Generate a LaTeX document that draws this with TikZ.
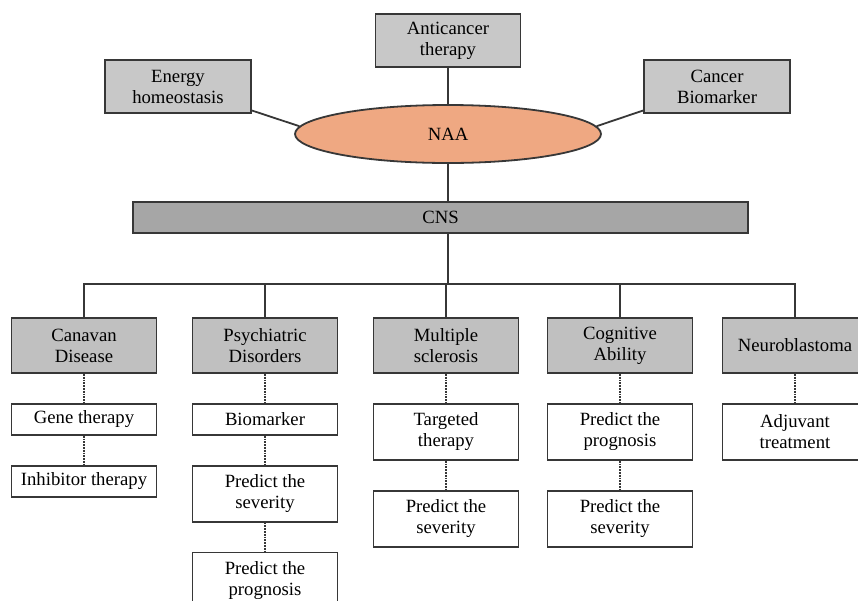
\documentclass[tikz,border=0pt]{standalone}
\usepackage{fontspec}
\setmainfont{Liberation Serif}
\usepackage{xcolor}
\usepackage{tikz}
\usetikzlibrary{positioning, shapes.geometric}

\definecolor{edgegray}{RGB}{55,55,55}
\definecolor{topgray}{RGB}{200,200,200}
\definecolor{disgray}{RGB}{192,192,192}
\definecolor{cnsgray}{RGB}{166,166,166}
\definecolor{naaorange}{RGB}{239,168,130}

\tikzset{
    node distance=29pt,                         % gap between a box and the one below it
    every node/.style={font=\fontsize{18.7}{21}\selectfont, align=center, inner sep=0pt},
    box/.style={draw=edgegray, line width=1.8pt, minimum width=145pt},
    topbox/.style={box, fill=topgray, minimum height=53pt},   % boxes round NAA
    disease/.style={box, fill=disgray, minimum height=55pt},  % second row
    leaf/.style={box, fill=white, minimum height=31pt},       % one line
    leaftwo/.style={box, fill=white, minimum height=56pt},    % two lines
    link/.style={draw=edgegray, line width=1.8pt},
    dots/.style={draw=edgegray, line width=1.8pt, densely dotted},
}

\begin{document}
\begin{tikzpicture}[x=1pt, y=1pt]
\useasboundingbox (0,0) rectangle (858,-600);

\node[topbox] (anti) at (448,-40.5) {Anticancer\\therapy};
\node[topbox, minimum width=146pt] (energy) at (178,-86.5) {Energy\\homeostasis};
\node[topbox, minimum width=146pt] (biomark) at (717,-86.5) {Cancer\\Biomarker};
\node[ellipse, draw=edgegray, line width=1.8pt, fill=naaorange, minimum width=306pt, minimum height=58pt] (naa) at (448,-134) {NAA};
\node[box, fill=cnsgray, minimum width=615pt, minimum height=31pt] (cns) at (440.5,-217.5) {CNS};

\node[disease] (canavan) at (84,-345.5) {Canavan\\Disease};
\node[disease] (psych) at (265,-345.5) {Psychiatric\\Disorders};
\node[disease] (ms) at (446,-345.5) {Multiple\\sclerosis};
\node[disease] (cog) at (620,-345.5) {Cognitive\\Ability};
\node[disease] (neuro) at (795,-345.5) {Neuroblastoma};

\node[leaf, below=of canavan] (gene) {Gene therapy};
\node[leaf, below=of gene] (inhib) {Inhibitor therapy};
\node[leaf, below=of psych] (biom) {Biomarker};
\node[leaftwo, below=of biom] (psysev) {Predict the\\severity};
\node[leaftwo, below=of psysev] (psyprog) {Predict the\\prognosis};
\node[leaftwo, below=of ms] (target) {Targeted\\therapy};
\node[leaftwo, below=of target] (mssev) {Predict the\\severity};
\node[leaftwo, below=of cog] (cogprog) {Predict the\\prognosis};
\node[leaftwo, below=of cogprog] (cogsev) {Predict the\\severity};
\node[leaftwo, below=of neuro] (adjuv) {Adjuvant\\treatment};

\coordinate (hub) at (448,-284);

\draw[link]
(anti) -- (naa)
(energy.-18) -- (naa.177)
(biomark.198) -- (naa.3)
(naa.south) -- (naa.south |- cns.north)
(cns.south -| hub) -- (hub);
\foreach \d in {canavan, psych, ms, cog, neuro}
    \draw[link] (hub) -| (\d.north);

\draw[dots]
(canavan) -- (gene)
(gene) -- (inhib)
(psych) -- (biom)
(biom) -- (psysev)
(psysev) -- (psyprog)
(ms) -- (target)
(target) -- (mssev)
(cog) -- (cogprog)
(cogprog) -- (cogsev)
(neuro) -- (adjuv);

\end{tikzpicture}
\end{document}
